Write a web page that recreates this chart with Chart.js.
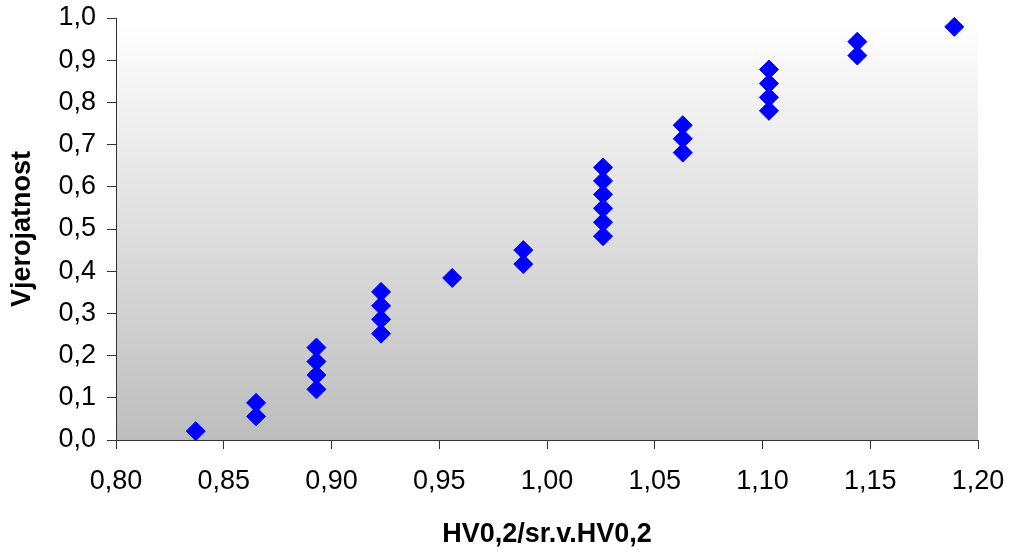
<!DOCTYPE html>
<html>
<head>
<meta charset="utf-8">
<script src="https://cdn.jsdelivr.net/npm/chart.js@4"></script>
<style>
  html, body { margin: 0; padding: 0; background: #fff; }
  #wrap { width: 1011px; height: 554px; }
</style>
</head>
<body>
<div id="wrap"><canvas id="chart"></canvas></div>
<script>
// HV0,2 / mean HV0,2 against cumulative probability
const xValues = [
  0.837,
  0.865, 0.865,
  0.893, 0.893, 0.893, 0.893,
  0.923, 0.923, 0.923, 0.923,
  0.956,
  0.989, 0.989,
  1.026, 1.026, 1.026, 1.026, 1.026, 1.026,
  1.063, 1.063, 1.063,
  1.103, 1.103, 1.103, 1.103,
  1.144, 1.144,
  1.189
];
const yValues = [
  0.021,
  0.056, 0.088,
  0.120, 0.154, 0.186, 0.219,
  0.252, 0.286, 0.318, 0.351,
  0.384,
  0.417, 0.450,
  0.483, 0.516, 0.549, 0.582, 0.614, 0.646,
  0.681, 0.714, 0.746,
  0.780, 0.812, 0.845, 0.878,
  0.911, 0.944,
  0.979
];
const xTitle = 'HV0,2/sr.v.HV0,2';
const yTitle = 'Vjerojatnost';

const points = xValues.map((x, i) => ({ x: x, y: yValues[i] }));

// Excel style grey fade behind the plot
const plotBackground = {
  id: 'plotBackground',
  beforeDraw(chart) {
    const { ctx, chartArea } = chart;
    if (!chartArea) return;
    const g = ctx.createLinearGradient(0, chartArea.top, 0, chartArea.bottom);
    g.addColorStop(0, '#ffffff');
    g.addColorStop(1, '#bdbdbd');
    ctx.save();
    ctx.fillStyle = g;
    ctx.fillRect(chartArea.left, chartArea.top, chartArea.right - chartArea.left, chartArea.bottom - chartArea.top);
    ctx.restore();
  }
};

const tickFont = { family: '"Liberation Sans", Arial, sans-serif', size: 27 };
const titleFont = { family: '"Liberation Sans", Arial, sans-serif', size: 27, weight: 'bold' };

// let the layout padding decide the plot box, not the label overhang
const noOverhang = (scale) => {
  scale.paddingTop = 0;
  scale.paddingBottom = 0;
  scale.paddingLeft = 0;
  scale.paddingRight = 0;
};

new Chart(document.getElementById('chart'), {
  type: 'scatter',
  data: {
    datasets: [{
      data: points,
      pointStyle: 'rectRot',
      pointRadius: 9.5,
      pointHoverRadius: 9.5,
      backgroundColor: '#0000ff',
      borderColor: '#0000ff',
      borderWidth: 1,
      clip: false
    }]
  },
  options: {
    responsive: true,
    maintainAspectRatio: false,
    animation: false,
    layout: { padding: { top: 18, right: 33, left: 0, bottom: 0 } },
    plugins: {
      legend: { display: false },
      tooltip: { enabled: false }
    },
    scales: {
      x: {
        type: 'linear',
        min: 0.8,
        max: 1.2,
        afterFit(scale) { scale.height = 114; noOverhang(scale); },
        border: { color: '#333333', width: 1 },
        grid: { display: true, drawOnChartArea: false, drawTicks: true, tickLength: 9, color: '#333333' },
        ticks: {
          stepSize: 0.05,
          padding: 16,
          color: '#000',
          font: tickFont,
          maxRotation: 0,
          callback: (v) => v.toFixed(2).replace('.', ',')
        },
        title: { display: true, text: xTitle, color: '#000', font: titleFont, padding: { top: 0, bottom: 3 } }
      },
      y: {
        type: 'linear',
        min: 0,
        max: 1,
        afterFit(scale) { scale.width = 116; noOverhang(scale); },
        border: { color: '#333333', width: 1 },
        grid: { display: true, drawOnChartArea: false, drawTicks: true, tickLength: 9, color: '#333333' },
        ticks: {
          stepSize: 0.1,
          padding: 11,
          color: '#000',
          font: tickFont,
          callback: (v) => v.toFixed(1).replace('.', ',')
        },
        title: { display: true, text: yTitle, color: '#000', font: titleFont, padding: { top: 6, bottom: 0 } }
      }
    }
  },
  plugins: [plotBackground]
});
</script>
</body>
</html>
